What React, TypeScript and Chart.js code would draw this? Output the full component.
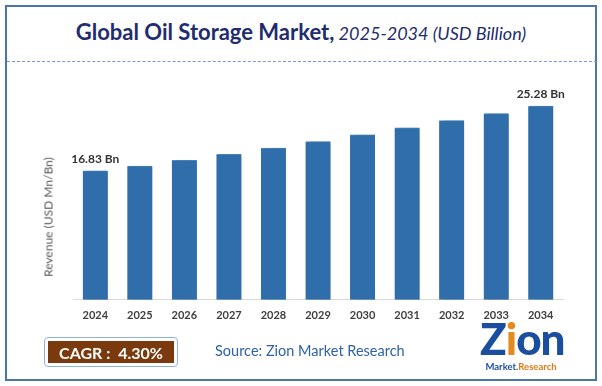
import React, { useEffect, useRef } from "react";
import { Chart, registerables } from "chart.js";

Chart.register(...registerables);

const years = ["2024", "2025", "2026", "2027", "2028", "2029", "2030", "2031", "2032", "2033", "2034"];
const revenue = [16.83, 17.45, 18.2, 19.0, 19.8, 20.65, 21.55, 22.45, 23.4, 24.3, 25.28];
const labelledIdx = [0, 10];
const labelText = ["16.83 Bn", "", "", "", "", "", "", "", "", "", "25.28 Bn"];

const FONT = "Lato, 'Open Sans', sans-serif";

const shadowPlugin = {
  id: "barShadow",
  beforeDatasetsDraw(chart: any) {
    const ctx = chart.ctx;
    ctx.save();
    ctx.shadowColor = "rgba(0,0,0,0.35)";
    ctx.shadowOffsetX = 4;
    ctx.shadowOffsetY = 1;
    ctx.shadowBlur = 4;
  },
  afterDatasetsDraw(chart: any) {
    const ctx = chart.ctx;
    ctx.restore();
    const meta = chart.getDatasetMeta(0);
    ctx.save();
    ctx.font = `bold 12px ${FONT}`;
    ctx.fillStyle = "#333333";
    ctx.textAlign = "center";
    ctx.textBaseline = "bottom";
    labelledIdx.forEach((i) => {
      const el = meta.data[i];
      ctx.fillText(labelText[i], el.x, el.y - 6);
    });
    ctx.restore();
  },
};

export default function App() {
  const ref = useRef<HTMLCanvasElement>(null);
  useEffect(() => {
    const chart = new Chart(ref.current!, {
      type: "bar",
      data: {
        labels: years,
        datasets: [
          {
            data: revenue,
            backgroundColor: "#2f6eaa",
            borderColor: "#4f8cc6",
            borderWidth: { top: 1, left: 0, right: 0, bottom: 0 },
            barThickness: 25,
          },
        ],
      },
      options: {
        responsive: false,
        animation: false,
        devicePixelRatio: 1,
        layout: { padding: { left: 73, right: 39, top: 70, bottom: 55 } },
        plugins: { legend: { display: false }, tooltip: { enabled: false } },
        scales: {
          x: {
            grid: { display: false, drawTicks: false },
            border: { display: true, color: "#d9d9d9", width: 1 },
            ticks: { color: "#404040", font: { family: FONT, size: 11, weight: "bold" }, padding: 9 },
          },
          y: { display: false, min: 0, max: 30 },
        },
      },
      plugins: [shadowPlugin],
    });
    return () => chart.destroy();
  }, []);

  return (
    <div style={{ position: "absolute", left: 0, top: 0, width: 602, height: 386, background: "#fff", fontFamily: FONT, overflow: "hidden" }}>
      <div style={{ position: "absolute", left: 5, top: 5, width: 592, height: 376, boxSizing: "border-box", border: "2px solid #4a76a8" }} />
      <div style={{ position: "absolute", left: 0, top: 18, width: 602, textAlign: "center", color: "#1f2d6e", whiteSpace: "nowrap" }}>
        <span style={{ fontWeight: 700, fontSize: 22 }}>Global Oil Storage Market,</span>
        <span style={{ fontStyle: "italic", fontSize: 18 }}> 2025-2034 (USD Billion)</span>
      </div>
      <div style={{ position: "absolute", left: 7, top: 61, width: 590, borderTop: "1.5px dashed #7b96d4" }} />
      <canvas ref={ref} width={602} height={386} style={{ position: "absolute", left: 0, top: 0 }} />
      <div style={{ position: "absolute", left: 48, top: 217, transform: "translate(-50%, -50%) rotate(-90deg)", whiteSpace: "nowrap", fontSize: 12, color: "#595959" }}>
        Revenue (USD Mn/Bn)
      </div>
      <div style={{ position: "absolute", left: 44, top: 337, width: 134, height: 30, boxSizing: "border-box", border: "1.5px solid #8fb3dc", borderRadius: 4, background: "#fff" }}>
        <div style={{ position: "absolute", left: 3, top: 3, right: 3, bottom: 3, background: "#7b3a0d", color: "#fff", fontWeight: 700, fontSize: 16, display: "flex", alignItems: "center", justifyContent: "center", whiteSpace: "pre" }}>
          {"CAGR :  4.30%"}
        </div>
      </div>
      <div style={{ position: "absolute", left: 215, top: 342, fontSize: 14.5, color: "#2f62a8", whiteSpace: "nowrap" }}>
        Source: Zion Market Research
      </div>
      <div style={{ position: "absolute", left: 480, top: 316, width: 82, textAlign: "center", whiteSpace: "nowrap" }}>
        <div style={{ fontSize: 44, fontWeight: 900, color: "#1b4e9e", lineHeight: "44px", letterSpacing: -1 }}>
          <span style={{ color: "#1b4e9e" }}>Z</span><span style={{ color: "#e58a1f" }}>i</span>on
        </div>
        <div style={{ fontSize: 9.5, fontWeight: 700, lineHeight: "12px", marginTop: 1 }}>
          <span style={{ color: "#1b4e9e" }}>Market.</span><span style={{ color: "#e07a12" }}>Research</span>
        </div>
      </div>
    </div>
  );
}
